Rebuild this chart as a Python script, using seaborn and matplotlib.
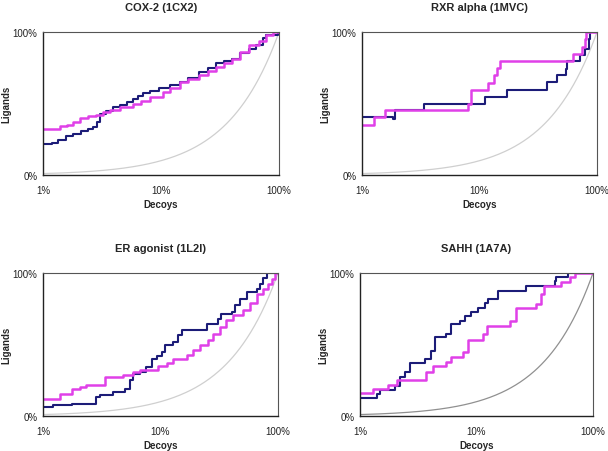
import matplotlib
matplotlib.use("Agg")
import matplotlib.pyplot as plt
import seaborn as sns
import numpy as np
import pandas as pd
from matplotlib.ticker import FixedLocator, FixedFormatter, NullLocator

sns.set_theme(style="white")
plt.rcParams['font.family'] = ['Liberation Sans', 'DejaVu Sans']

titles = ["COX-2 (1CX2)", "RXR alpha (1MVC)", "ER agonist (1L2I)", "SAHH (1A7A)"]

# Decoys fraction (x) and ligands fraction (y) for each panel, navy and magenta series
cox_navy_x = [0.01, 0.012, 0.0135, 0.0158, 0.018, 0.021, 0.024, 0.0265, 0.0285, 0.0302, 0.034, 0.039, 0.045, 0.052, 0.058, 0.064, 0.070, 0.080, 0.097, 0.12, 0.144, 0.17, 0.21, 0.25, 0.29, 0.34, 0.40, 0.47, 0.56, 0.64, 0.73, 0.78, 0.98, 1.0]
cox_navy_y = [0.215, 0.225, 0.245, 0.274, 0.29, 0.305, 0.32, 0.333, 0.37, 0.426, 0.45, 0.473, 0.49, 0.51, 0.53, 0.55, 0.57, 0.585, 0.61, 0.63, 0.65, 0.68, 0.72, 0.75, 0.78, 0.795, 0.81, 0.85, 0.88, 0.906, 0.96, 0.98, 1.0, 1.0]
cox_mag_x = [0.01, 0.0138, 0.016, 0.018, 0.0204, 0.024, 0.0283, 0.032, 0.0367, 0.045, 0.058, 0.068, 0.080, 0.104, 0.12, 0.144, 0.17, 0.21, 0.25, 0.29, 0.34, 0.40, 0.47, 0.56, 0.68, 0.78, 0.89, 1.0]
cox_mag_y = [0.325, 0.34, 0.352, 0.368, 0.398, 0.41, 0.42, 0.44, 0.454, 0.475, 0.497, 0.52, 0.543, 0.578, 0.61, 0.649, 0.67, 0.696, 0.73, 0.754, 0.78, 0.81, 0.86, 0.906, 0.94, 0.98, 1.0, 1.0]

rxr_navy_x = [0.01, 0.0185, 0.0192, 0.0335, 0.112, 0.173, 0.375, 0.456, 0.545, 0.556, 0.71, 0.79, 0.85, 0.87, 1.0]
rxr_navy_y = [0.403, 0.39, 0.454, 0.496, 0.548, 0.597, 0.649, 0.696, 0.74, 0.794, 0.836, 0.883, 0.953, 1.0, 1.0]
rxr_mag_x = [0.01, 0.0127, 0.0158, 0.080, 0.084, 0.117, 0.132, 0.140, 0.148, 0.625, 0.74, 0.79, 0.81, 1.0]
rxr_mag_y = [0.349, 0.403, 0.454, 0.50, 0.597, 0.644, 0.70, 0.747, 0.80, 0.848, 0.895, 0.953, 1.0, 1.0]

er_navy_x = [0.01, 0.0122, 0.0175, 0.0285, 0.0305, 0.0395, 0.0497, 0.055, 0.0585, 0.067, 0.076, 0.084, 0.093, 0.102, 0.109, 0.129, 0.142, 0.152, 0.248, 0.31, 0.33, 0.405, 0.43, 0.477, 0.54, 0.66, 0.70, 0.75, 0.80, 1.0]
er_navy_y = [0.063, 0.075, 0.086, 0.133, 0.145, 0.168, 0.19, 0.25, 0.296, 0.308, 0.343, 0.40, 0.417, 0.448, 0.494, 0.517, 0.564, 0.604, 0.646, 0.681, 0.716, 0.727, 0.774, 0.82, 0.867, 0.89, 0.925, 0.965, 1.0, 1.0]
er_mag_x = [0.01, 0.0139, 0.0175, 0.0206, 0.0234, 0.0335, 0.048, 0.0585, 0.067, 0.096, 0.113, 0.129, 0.167, 0.19, 0.217, 0.256, 0.282, 0.32, 0.36, 0.41, 0.506, 0.576, 0.66, 0.75, 0.83, 0.89, 0.94, 1.0]
er_mag_y = [0.121, 0.156, 0.19, 0.203, 0.219, 0.273, 0.284, 0.308, 0.324, 0.347, 0.371, 0.40, 0.424, 0.459, 0.494, 0.529, 0.576, 0.622, 0.669, 0.704, 0.739, 0.79, 0.855, 0.89, 0.925, 0.96, 1.0, 1.0]

sahh_navy_x = [0.01, 0.0139, 0.0148, 0.0199, 0.022, 0.0243, 0.0268, 0.036, 0.041, 0.044, 0.055, 0.061, 0.072, 0.079, 0.090, 0.103, 0.118, 0.126, 0.153, 0.268, 0.469, 0.485, 0.61, 1.0]
sahh_navy_y = [0.125, 0.155, 0.185, 0.213, 0.271, 0.306, 0.368, 0.398, 0.456, 0.549, 0.572, 0.64, 0.664, 0.699, 0.729, 0.757, 0.787, 0.815, 0.877, 0.907, 0.942, 0.97, 1.0, 1.0]
sahh_mag_x = [0.01, 0.0130, 0.0175, 0.0206, 0.0372, 0.0425, 0.055, 0.061, 0.076, 0.085, 0.114, 0.122, 0.193, 0.217, 0.327, 0.360, 0.377, 0.535, 0.63, 0.695, 1.0]
sahh_mag_y = [0.16, 0.19, 0.218, 0.252, 0.31, 0.352, 0.38, 0.414, 0.449, 0.53, 0.576, 0.63, 0.664, 0.752, 0.785, 0.85, 0.907, 0.938, 0.97, 1.0, 1.0]

series = [
    (cox_navy_x, cox_navy_y, cox_mag_x, cox_mag_y),
    (rxr_navy_x, rxr_navy_y, rxr_mag_x, rxr_mag_y),
    (er_navy_x, er_navy_y, er_mag_x, er_mag_y),
    (sahh_navy_x, sahh_navy_y, sahh_mag_x, sahh_mag_y),
]

x_ticks = [0.01, 0.1, 1.0]
x_labels = ["1%", "10%", "100%"]
y_ticks = [0.0, 1.0]
y_labels = ["0%", "100%"]
random_color = ["#cfcfcf", "#cfcfcf", "#cfcfcf", "#909090"]

NAVY = "#1c1c78"
MAGENTA = "#e040e8"

fig = plt.figure(figsize=(6.08, 4.52), dpi=100)
positions = [
    [43/608, 1-176/452, 236/608, 143/452],
    [362/608, 1-176/452, 235/608, 143/452],
    [43/608, 1-417/452, 235/608, 143/452],
    [360/608, 1-417/452, 233/608, 143/452],
]

rand_x = np.logspace(-2, 0, 200)

for i, pos in enumerate(positions):
    ax = fig.add_axes(pos)
    nx, ny, mx, my = series[i]
    ax.set_xscale("log")
    sns.lineplot(x=rand_x, y=rand_x, ax=ax, color=random_color[i], lw=0.9)
    sns.lineplot(x=nx, y=ny, ax=ax, color=NAVY, lw=1.5, drawstyle="steps-post", estimator=None, sort=False)
    sns.lineplot(x=mx, y=my, ax=ax, color=MAGENTA, lw=1.8, drawstyle="steps-post", estimator=None, sort=False)
    ax.set_xlim(0.01, 1.0)
    ax.set_ylim(0, 1.0)
    ax.xaxis.set_major_locator(FixedLocator(x_ticks))
    ax.xaxis.set_major_formatter(FixedFormatter(x_labels))
    ax.xaxis.set_minor_locator(NullLocator())
    ax.yaxis.set_major_locator(FixedLocator(y_ticks))
    ax.yaxis.set_major_formatter(FixedFormatter(y_labels))
    ax.tick_params(axis="both", labelsize=7, length=2, width=0.6, pad=2, colors="#222222", direction="out")
    ax.tick_params(axis="x", pad=5)
    for s in ["left", "bottom"]:
        ax.spines[s].set_color("#222222")
        ax.spines[s].set_linewidth(1.0)
    for s in ["top", "right"]:
        ax.spines[s].set_color("#555555")
        ax.spines[s].set_linewidth(0.8)
    ax.set_title(titles[i], fontsize=8, fontweight="bold", pad=16)
    ax.set_xlabel("Decoys", fontsize=7, fontweight="bold", labelpad=3)
    ax.set_ylabel("Ligands", fontsize=7, fontweight="bold", labelpad=1)

fig.savefig("out.png", dpi=100)
